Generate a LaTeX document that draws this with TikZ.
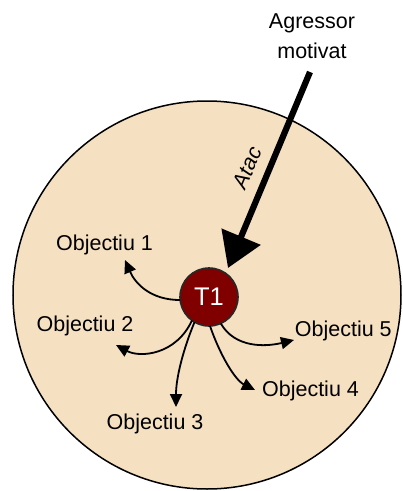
\documentclass[tikz,border=0pt]{standalone}
\usepackage{fontspec}
\setmainfont{Liberation Sans}
\usetikzlibrary{arrows.meta}
\definecolor{disc}{RGB}{245,224,194}
\definecolor{tred}{RGB}{128,0,0}
\definecolor{tborder}{RGB}{40,40,40}
\tikzset{
  lbl/.style={anchor=base, inner sep=0pt, font=\fontsize{21.5}{25}\selectfont},
  goal/.style={line width=1.8pt, -{Triangle[length=13pt,width=12pt]}},
  attack/.style={line width=6.2pt, -{Triangle[length=34pt,width=41pt]}}
}
\begin{document}
\begin{tikzpicture}[x=1pt,y=-1pt]
\useasboundingbox (0,0) rectangle (403,491);
\fill[disc] (207,295) circle[radius=194];
\draw[line width=1.5pt] (207,295) circle[radius=194];

\node[circle, fill=tred, draw=tborder, line width=1.6pt, minimum size=58pt, inner sep=0pt, outer sep=0pt,
      text=white, font=\fontsize{25.5}{30}\selectfont] (t1) at (209,297) {T1};

\node[lbl, align=center, anchor=base] (agr) at (312,58.3) {Agressor\\[5pt]motivat};
\coordinate (agrs) at (310,72);
\coordinate (hit) at (228,268);
\draw[attack] (agrs) -- (hit);
\node[inner sep=0pt, rotate=67, font=\fontsize{21.5}{25}\selectfont\itshape] (atac) at (247.5,168) {Atac};

\node[lbl] (o1) at (104.5,250.5) {Objectiu 1};
\node[lbl] (o2) at (85,331.7) {Objectiu 2};
\node[lbl] (o3) at (155,429) {Objectiu 3};
\node[lbl] (o4) at (310.5,396) {Objectiu 4};
\node[lbl] (o5) at (343.3,336.7) {Objectiu 5};

\coordinate (e1) at (125,260);
\coordinate (e2) at (116,345);
\coordinate (e3) at (176,407);
\coordinate (e4) at (255,390);
\coordinate (e5) at (294,340);

\draw[goal] (t1.186) .. controls (150,300) and (135,283) .. (e1);
\draw[goal] (t1.234) .. controls (176,355) and (140,358) .. (e2);
\draw[goal] (t1.240) .. controls (183,350) and (176,378) .. (e3);
\draw[goal] (t1.272) .. controls (220,355) and (235,380) .. (e4);
\draw[goal] (t1.294) .. controls (235,348) and (265,347) .. (e5);
\end{tikzpicture}
\end{document}
